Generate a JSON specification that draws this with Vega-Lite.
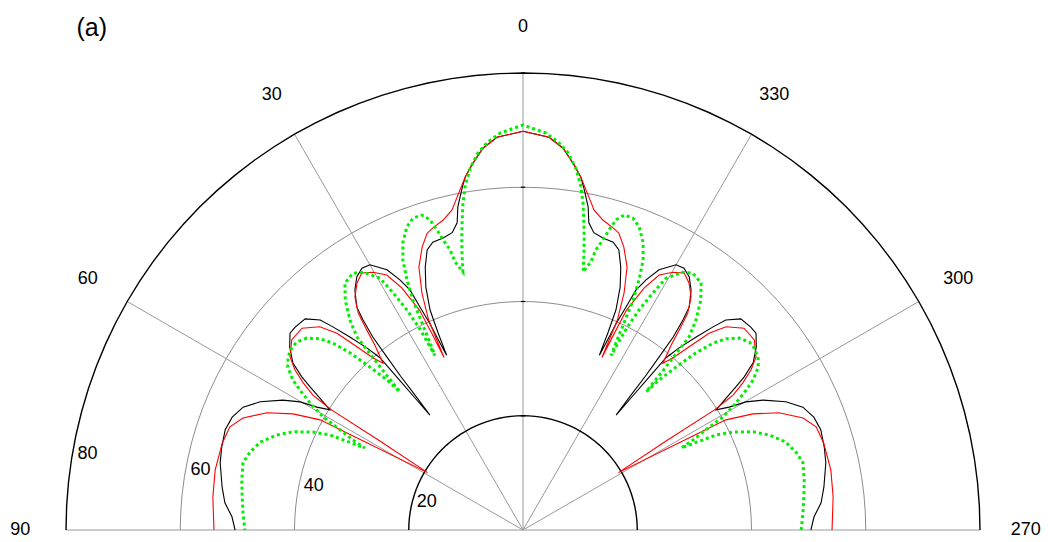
{
 "$schema":"https://vega.github.io/schema/vega-lite/v6.json",
 "width":914,"height":457,
 "autosize":{"type":"none"},
 "padding":{"left":66,"top":73,"right":68,"bottom":12},
 "background":"white",
 "config":{"view":{"stroke":null}},
 "datasets":{
  "ring":[{"rs":[20,40,60,80],"a":[-90,-87,-84,-81,-78,-75,-72,-69,-66,-63,-60,-57,-54,-51,-48,-45,-42,-39,-36,-33,-30,-27,-24,-21,-18,-15,-12,-9,-6,-3,0,3,6,9,12,15,18,21,24,27,30,33,36,39,42,45,48,51,54,57,60,63,66,69,72,75,78,81,84,87,90]}],
  "spokes":[{"a":0},{"a":30},{"a":60},{"a":90},{"a":-30},{"a":-60},{"a":-90}],
  "angleLabels":[{"label":"0","a":0},{"label":"30","a":30},{"label":"60","a":60},{"label":"90","a":90},{"label":"270","a":-90},{"label":"300","a":-60},{"label":"330","a":-30}],
  "radialLabels":[{"v":20},{"v":40},{"v":60},{"v":80}],
  "panel":[{"t":"(a)"}],
  "curves":[
   {"s":"k","a":0,"v":69.8},{"s":"k","a":3.8,"v":68.9},{"s":"k","a":6.0,"v":67.2},{"s":"k","a":8.0,"v":64.5},{"s":"k","a":9.3,"v":62.6},{"s":"k","a":10.1,"v":60.8},{"s":"k","a":11.4,"v":57.7},{"s":"k","a":12.1,"v":55.0},{"s":"k","a":13.4,"v":53.5},{"s":"k","a":15.3,"v":53.0},{"s":"k","a":17.4,"v":52.8},{"s":"k","a":18.9,"v":51.8},{"s":"k","a":20.4,"v":49.1},{"s":"k","a":21.8,"v":45.8},{"s":"k","a":22.9,"v":41.8},{"s":"k","a":23.3,"v":37.6},{"s":"k","a":23.6,"v":33.4},{"s":"k","a":24.0,"v":36.4},{"s":"k","a":24.3,"v":39.7},{"s":"k","a":24.8,"v":43.0},{"s":"k","a":25.2,"v":46.4},{"s":"k","a":26.2,"v":48.8},{"s":"k","a":27.6,"v":51.4},{"s":"k","a":30.0,"v":53.6},{"s":"k","a":31.6,"v":53.8},{"s":"k","a":33.3,"v":53.0},{"s":"k","a":35.0,"v":51.3},{"s":"k","a":36.7,"v":48.7},{"s":"k","a":37.3,"v":46.2},{"s":"k","a":37.9,"v":42.8},{"s":"k","a":38.2,"v":38.5},{"s":"k","a":38.5,"v":34.4},{"s":"k","a":38.7,"v":29.8},{"s":"k","a":39.0,"v":25.9},{"s":"k","a":39.3,"v":30.2},{"s":"k","a":39.5,"v":34.7},{"s":"k","a":39.7,"v":39.2},{"s":"k","a":40.6,"v":42.0},{"s":"k","a":41.9,"v":45.4},{"s":"k","a":43.1,"v":48.7},{"s":"k","a":44.0,"v":51.1},{"s":"k","a":45.9,"v":53.1},{"s":"k","a":48.3,"v":53.4},{"s":"k","a":49.8,"v":53.4},{"s":"k","a":51.9,"v":51.9},{"s":"k","a":54.0,"v":49.8},{"s":"k","a":55.3,"v":47.1},{"s":"k","a":56.1,"v":44.9},{"s":"k","a":57.0,"v":42.4},{"s":"k","a":58.1,"v":39.8},{"s":"k","a":59.2,"v":42.0},{"s":"k","a":60.1,"v":45.0},{"s":"k","a":61.6,"v":47.8},{"s":"k","a":64.0,"v":51.2},{"s":"k","a":66.3,"v":53.5},{"s":"k","a":68.8,"v":54.6},{"s":"k","a":71.4,"v":55.0},{"s":"k","a":74.6,"v":54.7},{"s":"k","a":77.5,"v":54.3},{"s":"k","a":81.9,"v":53.2},{"s":"k","a":84.8,"v":52.4},{"s":"k","a":87.4,"v":51.0},{"s":"k","a":90,"v":50.4},
   {"s":"k","a":-3.8,"v":68.9},{"s":"k","a":-6.0,"v":67.2},{"s":"k","a":-8.0,"v":64.5},{"s":"k","a":-9.3,"v":62.6},{"s":"k","a":-10.1,"v":60.8},{"s":"k","a":-11.4,"v":57.7},{"s":"k","a":-12.1,"v":55.0},{"s":"k","a":-13.4,"v":53.5},{"s":"k","a":-15.3,"v":53.0},{"s":"k","a":-17.4,"v":52.8},{"s":"k","a":-18.9,"v":51.8},{"s":"k","a":-20.4,"v":49.1},{"s":"k","a":-21.8,"v":45.8},{"s":"k","a":-22.9,"v":41.8},{"s":"k","a":-23.3,"v":37.6},{"s":"k","a":-23.6,"v":33.4},{"s":"k","a":-24.0,"v":36.4},{"s":"k","a":-24.3,"v":39.7},{"s":"k","a":-24.8,"v":43.0},{"s":"k","a":-25.2,"v":46.4},{"s":"k","a":-26.2,"v":48.8},{"s":"k","a":-27.6,"v":51.4},{"s":"k","a":-30.0,"v":53.6},{"s":"k","a":-31.6,"v":53.8},{"s":"k","a":-33.3,"v":53.0},{"s":"k","a":-35.0,"v":51.3},{"s":"k","a":-36.7,"v":48.7},{"s":"k","a":-37.3,"v":46.2},{"s":"k","a":-37.9,"v":42.8},{"s":"k","a":-38.2,"v":38.5},{"s":"k","a":-38.5,"v":34.4},{"s":"k","a":-38.7,"v":29.8},{"s":"k","a":-39.0,"v":25.9},{"s":"k","a":-39.3,"v":30.2},{"s":"k","a":-39.5,"v":34.7},{"s":"k","a":-39.7,"v":39.2},{"s":"k","a":-40.6,"v":42.0},{"s":"k","a":-41.9,"v":45.4},{"s":"k","a":-43.1,"v":48.7},{"s":"k","a":-44.0,"v":51.1},{"s":"k","a":-45.9,"v":53.1},{"s":"k","a":-48.3,"v":53.4},{"s":"k","a":-49.8,"v":53.4},{"s":"k","a":-51.9,"v":51.9},{"s":"k","a":-54.0,"v":49.8},{"s":"k","a":-55.3,"v":47.1},{"s":"k","a":-56.1,"v":44.9},{"s":"k","a":-57.0,"v":42.4},{"s":"k","a":-58.1,"v":39.8},{"s":"k","a":-59.2,"v":42.0},{"s":"k","a":-60.1,"v":45.0},{"s":"k","a":-61.6,"v":47.8},{"s":"k","a":-64.0,"v":51.2},{"s":"k","a":-66.3,"v":53.5},{"s":"k","a":-68.8,"v":54.6},{"s":"k","a":-71.4,"v":55.0},{"s":"k","a":-74.6,"v":54.7},{"s":"k","a":-77.5,"v":54.3},{"s":"k","a":-81.9,"v":53.2},{"s":"k","a":-84.8,"v":52.4},{"s":"k","a":-87.4,"v":51.0},{"s":"k","a":-90,"v":50.4},
   {"s":"r","a":0,"v":69.8},{"s":"r","a":3.8,"v":68.9},{"s":"r","a":6.0,"v":67.2},{"s":"r","a":8.0,"v":64.5},{"s":"r","a":9.3,"v":62.6},{"s":"r","a":11.2,"v":59.4},{"s":"r","a":12.5,"v":57.4},{"s":"r","a":14.5,"v":56.0},{"s":"r","a":16.6,"v":55.2},{"s":"r","a":17.9,"v":54.6},{"s":"r","a":19.6,"v":52.6},{"s":"r","a":21.6,"v":49.5},{"s":"r","a":23.1,"v":45.1},{"s":"r","a":24.2,"v":40.3},{"s":"r","a":24.6,"v":33.2},{"s":"r","a":24.9,"v":37.9},{"s":"r","a":25.2,"v":42.5},{"s":"r","a":26.6,"v":47.4},{"s":"r","a":28.1,"v":50.6},{"s":"r","a":30.2,"v":52.2},{"s":"r","a":32.1,"v":53.1},{"s":"r","a":33.9,"v":52.1},{"s":"r","a":35.8,"v":50.3},{"s":"r","a":37.2,"v":47.7},{"s":"r","a":38.0,"v":44.4},{"s":"r","a":38.7,"v":41.5},{"s":"r","a":40.0,"v":38.1},{"s":"r","a":41.1,"v":40.0},{"s":"r","a":42.2,"v":43.3},{"s":"r","a":43.4,"v":47.4},{"s":"r","a":45.0,"v":50.3},{"s":"r","a":47.6,"v":52.4},{"s":"r","a":50.6,"v":52.4},{"s":"r","a":53.4,"v":50.8},{"s":"r","a":54.9,"v":48.8},{"s":"r","a":56.2,"v":46.3},{"s":"r","a":57.3,"v":43.7},{"s":"r","a":57.6,"v":41.5},{"s":"r","a":57.9,"v":39.5},{"s":"r","a":58.1,"v":29.5},{"s":"r","a":59.0,"v":19.5},{"s":"r","a":60.9,"v":32.0},{"s":"r","a":61.5,"v":40.4},{"s":"r","a":63.2,"v":45.1},{"s":"r","a":65.4,"v":49.3},{"s":"r","a":68.2,"v":52.8},{"s":"r","a":70.6,"v":54.4},{"s":"r","a":73.9,"v":54.8},{"s":"r","a":79.0,"v":54.9},{"s":"r","a":83.9,"v":54.6},{"s":"r","a":90,"v":54.1},
   {"s":"r","a":-3.8,"v":68.9},{"s":"r","a":-6.0,"v":67.2},{"s":"r","a":-8.0,"v":64.5},{"s":"r","a":-9.3,"v":62.6},{"s":"r","a":-11.2,"v":59.4},{"s":"r","a":-12.5,"v":57.4},{"s":"r","a":-14.5,"v":56.0},{"s":"r","a":-16.6,"v":55.2},{"s":"r","a":-17.9,"v":54.6},{"s":"r","a":-19.6,"v":52.6},{"s":"r","a":-21.6,"v":49.5},{"s":"r","a":-23.1,"v":45.1},{"s":"r","a":-24.2,"v":40.3},{"s":"r","a":-24.6,"v":33.2},{"s":"r","a":-24.9,"v":37.9},{"s":"r","a":-25.2,"v":42.5},{"s":"r","a":-26.6,"v":47.4},{"s":"r","a":-28.1,"v":50.6},{"s":"r","a":-30.2,"v":52.2},{"s":"r","a":-32.1,"v":53.1},{"s":"r","a":-33.9,"v":52.1},{"s":"r","a":-35.8,"v":50.3},{"s":"r","a":-37.2,"v":47.7},{"s":"r","a":-38.0,"v":44.4},{"s":"r","a":-38.7,"v":41.5},{"s":"r","a":-40.0,"v":38.1},{"s":"r","a":-41.1,"v":40.0},{"s":"r","a":-42.2,"v":43.3},{"s":"r","a":-43.4,"v":47.4},{"s":"r","a":-45.0,"v":50.3},{"s":"r","a":-47.6,"v":52.4},{"s":"r","a":-50.6,"v":52.4},{"s":"r","a":-53.4,"v":50.8},{"s":"r","a":-54.9,"v":48.8},{"s":"r","a":-56.2,"v":46.3},{"s":"r","a":-57.3,"v":43.7},{"s":"r","a":-57.6,"v":41.5},{"s":"r","a":-57.9,"v":39.5},{"s":"r","a":-58.1,"v":29.5},{"s":"r","a":-59.0,"v":19.5},{"s":"r","a":-60.9,"v":32.0},{"s":"r","a":-61.5,"v":40.4},{"s":"r","a":-63.2,"v":45.1},{"s":"r","a":-65.4,"v":49.3},{"s":"r","a":-68.2,"v":52.8},{"s":"r","a":-70.6,"v":54.4},{"s":"r","a":-73.9,"v":54.8},{"s":"r","a":-79.0,"v":54.9},{"s":"r","a":-83.9,"v":54.6},{"s":"r","a":-90,"v":54.1},
   {"s":"g","a":0,"v":70.9},{"s":"g","a":3.3,"v":69.6},{"s":"g","a":5.2,"v":68.2},{"s":"g","a":6.8,"v":66.5},{"s":"g","a":8.3,"v":64.0},{"s":"g","a":9.5,"v":61.2},{"s":"g","a":10.4,"v":58.2},{"s":"g","a":11.1,"v":55.3},{"s":"g","a":11.8,"v":52.4},{"s":"g","a":12.5,"v":49.3},{"s":"g","a":13.1,"v":46.4},{"s":"g","a":14.2,"v":48.4},{"s":"g","a":14.6,"v":50.7},{"s":"g","a":15.4,"v":52.7},{"s":"g","a":16.0,"v":54.6},{"s":"g","a":16.7,"v":56.7},{"s":"g","a":17.8,"v":57.9},{"s":"g","a":19.4,"v":57.9},{"s":"g","a":21.0,"v":56.8},{"s":"g","a":22.7,"v":54.5},{"s":"g","a":24.0,"v":51.7},{"s":"g","a":24.9,"v":48.2},{"s":"g","a":25.6,"v":44.6},{"s":"g","a":26.0,"v":40.3},{"s":"g","a":26.4,"v":36.6},{"s":"g","a":26.8,"v":34.2},{"s":"g","a":27.0,"v":37.3},{"s":"g","a":27.2,"v":39.8},{"s":"g","a":27.8,"v":43.5},{"s":"g","a":28.7,"v":47.3},{"s":"g","a":29.6,"v":50.7},{"s":"g","a":31.8,"v":53.1},{"s":"g","a":33.5,"v":53.9},{"s":"g","a":35.8,"v":53.3},{"s":"g","a":37.7,"v":50.9},{"s":"g","a":39.5,"v":47.6},{"s":"g","a":40.7,"v":44.6},{"s":"g","a":41.0,"v":40.4},{"s":"g","a":41.3,"v":37.2},{"s":"g","a":41.5,"v":34.3},{"s":"g","a":41.7,"v":32.4},{"s":"g","a":42.2,"v":35.4},{"s":"g","a":43.2,"v":39.1},{"s":"g","a":44.3,"v":43.3},{"s":"g","a":45.5,"v":46.7},{"s":"g","a":46.7,"v":48.8},{"s":"g","a":48.4,"v":50.6},{"s":"g","a":50.3,"v":51.5},{"s":"g","a":51.8,"v":51.5},{"s":"g","a":53.6,"v":51.1},{"s":"g","a":55.3,"v":50.1},{"s":"g","a":56.9,"v":48.1},{"s":"g","a":57.9,"v":46.1},{"s":"g","a":59.2,"v":43.4},{"s":"g","a":60.5,"v":40.2},{"s":"g","a":61.3,"v":36.5},{"s":"g","a":62.1,"v":33.7},{"s":"g","a":62.6,"v":31.2},{"s":"g","a":63.8,"v":37.7},{"s":"g","a":65.0,"v":40.6},{"s":"g","a":66.9,"v":43.8},{"s":"g","a":68.9,"v":46.2},{"s":"g","a":71.5,"v":48.5},{"s":"g","a":74.1,"v":49.7},{"s":"g","a":76.5,"v":50.4},{"s":"g","a":79.9,"v":50.0},{"s":"g","a":83.3,"v":49.5},{"s":"g","a":86.5,"v":49.1},{"s":"g","a":90,"v":48.7},
   {"s":"g","a":-3.3,"v":69.6},{"s":"g","a":-5.2,"v":68.2},{"s":"g","a":-6.8,"v":66.5},{"s":"g","a":-8.3,"v":64.0},{"s":"g","a":-9.5,"v":61.2},{"s":"g","a":-10.4,"v":58.2},{"s":"g","a":-11.1,"v":55.3},{"s":"g","a":-11.8,"v":52.4},{"s":"g","a":-12.5,"v":49.3},{"s":"g","a":-13.1,"v":46.4},{"s":"g","a":-14.2,"v":48.4},{"s":"g","a":-14.6,"v":50.7},{"s":"g","a":-15.4,"v":52.7},{"s":"g","a":-16.0,"v":54.6},{"s":"g","a":-16.7,"v":56.7},{"s":"g","a":-17.8,"v":57.9},{"s":"g","a":-19.4,"v":57.9},{"s":"g","a":-21.0,"v":56.8},{"s":"g","a":-22.7,"v":54.5},{"s":"g","a":-24.0,"v":51.7},{"s":"g","a":-24.9,"v":48.2},{"s":"g","a":-25.6,"v":44.6},{"s":"g","a":-26.0,"v":40.3},{"s":"g","a":-26.4,"v":36.6},{"s":"g","a":-26.8,"v":34.2},{"s":"g","a":-27.0,"v":37.3},{"s":"g","a":-27.2,"v":39.8},{"s":"g","a":-27.8,"v":43.5},{"s":"g","a":-28.7,"v":47.3},{"s":"g","a":-29.6,"v":50.7},{"s":"g","a":-31.8,"v":53.1},{"s":"g","a":-33.5,"v":53.9},{"s":"g","a":-35.8,"v":53.3},{"s":"g","a":-37.7,"v":50.9},{"s":"g","a":-39.5,"v":47.6},{"s":"g","a":-40.7,"v":44.6},{"s":"g","a":-41.0,"v":40.4},{"s":"g","a":-41.3,"v":37.2},{"s":"g","a":-41.5,"v":34.3},{"s":"g","a":-41.7,"v":32.4},{"s":"g","a":-42.2,"v":35.4},{"s":"g","a":-43.2,"v":39.1},{"s":"g","a":-44.3,"v":43.3},{"s":"g","a":-45.5,"v":46.7},{"s":"g","a":-46.7,"v":48.8},{"s":"g","a":-48.4,"v":50.6},{"s":"g","a":-50.3,"v":51.5},{"s":"g","a":-51.8,"v":51.5},{"s":"g","a":-53.6,"v":51.1},{"s":"g","a":-55.3,"v":50.1},{"s":"g","a":-56.9,"v":48.1},{"s":"g","a":-57.9,"v":46.1},{"s":"g","a":-59.2,"v":43.4},{"s":"g","a":-60.5,"v":40.2},{"s":"g","a":-61.3,"v":36.5},{"s":"g","a":-62.1,"v":33.7},{"s":"g","a":-62.6,"v":31.2},{"s":"g","a":-63.8,"v":37.7},{"s":"g","a":-65.0,"v":40.6},{"s":"g","a":-66.9,"v":43.8},{"s":"g","a":-68.9,"v":46.2},{"s":"g","a":-71.5,"v":48.5},{"s":"g","a":-74.1,"v":49.7},{"s":"g","a":-76.5,"v":50.4},{"s":"g","a":-79.9,"v":50.0},{"s":"g","a":-83.3,"v":49.5},{"s":"g","a":-86.5,"v":49.1},{"s":"g","a":-90,"v":48.7}
  ]
 },
 "layer":[
  {"data":{"name":"ring"},
   "transform":[{"flatten":["rs"]},{"flatten":["a"]},{"filter":"datum.rs==40||datum.rs==60"},
    {"calculate":"-datum.rs*sin(datum.a*PI/180)","as":"x"},{"calculate":"datum.rs*cos(datum.a*PI/180)","as":"y"}],
   "mark":{"type":"line","stroke":"#8c8c8c","strokeWidth":1},
   "encoding":{
    "x":{"field":"x","type":"quantitative","scale":{"domain":[-80,80],"nice":false,"zero":false},"axis":null},
    "y":{"field":"y","type":"quantitative","scale":{"domain":[0,80],"nice":false,"zero":false},"axis":null},
    "detail":{"field":"rs","type":"nominal"},
    "order":{"field":"a","type":"quantitative"}}},
  {"data":{"name":"spokes"},
   "transform":[{"calculate":"0","as":"x"},{"calculate":"0","as":"y"},{"calculate":"-80*sin(datum.a*PI/180)","as":"x2"},{"calculate":"80*cos(datum.a*PI/180)","as":"y2"}],
   "mark":{"type":"rule","stroke":"#999999","strokeWidth":1},
   "encoding":{
    "x":{"field":"x","type":"quantitative","scale":{"domain":[-80,80],"nice":false,"zero":false},"axis":null},
    "y":{"field":"y","type":"quantitative","scale":{"domain":[0,80],"nice":false,"zero":false},"axis":null},
    "x2":{"field":"x2"},"y2":{"field":"y2"}}},
  {"data":{"name":"ring"},
   "transform":[{"flatten":["rs"]},{"flatten":["a"]},{"filter":"datum.rs==20||datum.rs==80"},
    {"calculate":"-datum.rs*sin(datum.a*PI/180)","as":"x"},{"calculate":"datum.rs*cos(datum.a*PI/180)","as":"y"}],
   "mark":{"type":"line","stroke":"#000000","strokeWidth":1.4},
   "encoding":{
    "x":{"field":"x","type":"quantitative","scale":{"domain":[-80,80],"nice":false,"zero":false},"axis":null},
    "y":{"field":"y","type":"quantitative","scale":{"domain":[0,80],"nice":false,"zero":false},"axis":null},
    "detail":{"field":"rs","type":"nominal"},
    "order":{"field":"a","type":"quantitative"}}},
  {"data":{"name":"radialLabels"},
   "transform":[{"calculate":"0","as":"x"}],
   "mark":{"type":"point","shape":"M-1,0L1,0","filled":false,"stroke":"#000000","strokeWidth":1.2,"size":20,"opacity":1},
   "encoding":{
    "x":{"field":"x","type":"quantitative","scale":{"domain":[-80,80],"nice":false,"zero":false},"axis":null},
    "y":{"field":"v","type":"quantitative","scale":{"domain":[0,80],"nice":false,"zero":false},"axis":null}}},
  {"data":{"name":"curves"},
   "transform":[{"calculate":"-datum.v*sin(datum.a*PI/180)","as":"x"},{"calculate":"datum.v*cos(datum.a*PI/180)","as":"y"}],
   "layer":[
    {"transform":[{"filter":"datum.s=='k'"}],
     "mark":{"type":"line","stroke":"#000000","strokeWidth":1.1},
     "encoding":{
      "x":{"field":"x","type":"quantitative","scale":{"domain":[-80,80],"nice":false,"zero":false},"axis":null},
      "y":{"field":"y","type":"quantitative","scale":{"domain":[0,80],"nice":false,"zero":false},"axis":null},
      "order":{"field":"a","type":"quantitative"}}},
    {"transform":[{"filter":"datum.s=='r'"}],
     "mark":{"type":"line","stroke":"#ff0000","strokeWidth":1.1},
     "encoding":{
      "x":{"field":"x","type":"quantitative","scale":{"domain":[-80,80],"nice":false,"zero":false},"axis":null},
      "y":{"field":"y","type":"quantitative","scale":{"domain":[0,80],"nice":false,"zero":false},"axis":null},
      "order":{"field":"a","type":"quantitative"}}},
    {"transform":[{"filter":"datum.s=='g'"}],
     "mark":{"type":"line","stroke":"#00ee00","strokeWidth":3,"strokeDash":[3,3],"strokeCap":"butt"},
     "encoding":{
      "x":{"field":"x","type":"quantitative","scale":{"domain":[-80,80],"nice":false,"zero":false},"axis":null},
      "y":{"field":"y","type":"quantitative","scale":{"domain":[0,80],"nice":false,"zero":false},"axis":null},
      "order":{"field":"a","type":"quantitative"}}}
   ]},
  {"data":{"name":"angleLabels"},
   "transform":[{"calculate":"-88*sin(datum.a*PI/180)","as":"x"},{"calculate":"88*cos(datum.a*PI/180)","as":"y"}],
   "mark":{"type":"text","font":"Liberation Sans","fontSize":18,"align":"center","baseline":"middle","color":"#000000"},
   "encoding":{
    "x":{"field":"x","type":"quantitative","scale":{"domain":[-80,80],"nice":false,"zero":false},"axis":null},
    "y":{"field":"y","type":"quantitative","scale":{"domain":[0,80],"nice":false,"zero":false},"axis":null},
    "text":{"field":"label","type":"nominal"}}},
  {"data":{"name":"radialLabels"},
   "transform":[{"calculate":"-datum.v*sin(82*PI/180)","as":"x"},{"calculate":"datum.v*cos(82*PI/180)","as":"y"}],
   "mark":{"type":"text","font":"Liberation Sans","fontSize":18,"align":"left","baseline":"middle","dx":7,"dy":-12,"color":"#000000"},
   "encoding":{
    "x":{"field":"x","type":"quantitative","scale":{"domain":[-80,80],"nice":false,"zero":false},"axis":null},
    "y":{"field":"y","type":"quantitative","scale":{"domain":[0,80],"nice":false,"zero":false},"axis":null},
    "text":{"field":"v","type":"nominal"}}},
  {"data":{"name":"panel"},
   "transform":[{"calculate":"-75.5","as":"x"},{"calculate":"87.9","as":"y"}],
   "mark":{"type":"text","font":"Liberation Sans","fontSize":25,"align":"center","baseline":"middle","color":"#000000"},
   "encoding":{
    "x":{"field":"x","type":"quantitative","scale":{"domain":[-80,80],"nice":false,"zero":false},"axis":null},
    "y":{"field":"y","type":"quantitative","scale":{"domain":[0,80],"nice":false,"zero":false},"axis":null},
    "text":{"field":"t","type":"nominal"}}}
 ]
}
